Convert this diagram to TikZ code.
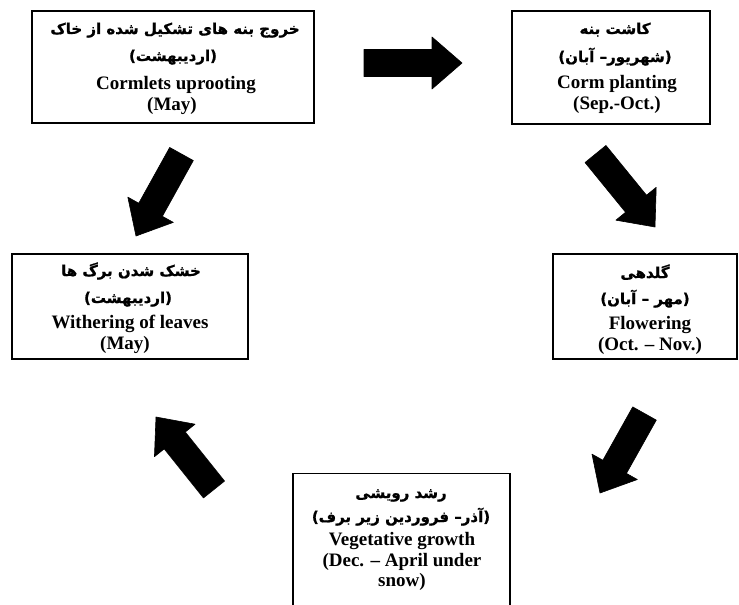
\documentclass[tikz,border=0pt]{standalone}
\usepackage{fontspec}
\setmainfont{Liberation Serif}
\newfontfamily\fa[Script=Arabic,BoldFeatures={FakeBold=1}]{DejaVu Sans}
\TeXXeTstate=1
\usetikzlibrary{calc}
\tikzset{
  box/.style={draw=black, line width=1.2pt, fill=white, inner sep=0pt},
  en/.style={anchor=base, inner sep=0pt, font=\bfseries\fontsize{19}{21}\selectfont},
  fatxt/.style={anchor=base, inner sep=0pt, font=\fa\bfseries\fontsize{15}{17}\selectfont},
  arrowfill/.style={fill=black, draw=black, line width=0.6pt, line join=round},
}
\newcommand\blockarrow[2]{%
  \coordinate (#1-h) at ($(#2)!30pt!(#1)$);
  \filldraw[arrowfill] ($(#1)!13.5pt!90:(#2)$) -- ($(#1-h)!13.5pt!90:(#2)$) -- ($(#1-h)!26pt!90:(#2)$)
    -- (#2) -- ($(#1-h)!26pt!-90:(#2)$) -- ($(#1-h)!13.5pt!-90:(#2)$) -- ($(#1)!13.5pt!-90:(#2)$) -- cycle;}
\begin{document}
\begin{tikzpicture}[x=1pt, y=-1pt]
\useasboundingbox[fill=white] (0,0) rectangle (739,605);
% boxes
\node[box, minimum width=282pt, minimum height=112pt] (b1) at (173,67) {};
\node[box, minimum width=198pt, minimum height=113pt] (b2) at (611,67.5) {};
\node[box, minimum width=236pt, minimum height=105pt] (b3) at (130,306.5) {};
\node[box, minimum width=184pt, minimum height=105pt] (b4) at (645,306.5) {};
\node[box, minimum width=217pt, minimum height=170pt, anchor=north] (b5) at (401.5,473) {};
% box 1
\node[fatxt] (t1a) at (175,34) {\beginR خروج بنه های تشکیل شده از خاک\endR};
\node[fatxt] (t1b) at (173,61) {\beginR(اردیبهشت)\endR};
\node[en] (t1c) at (176,89) {Cormlets uprooting};
\node[en] (t1d) at (172,110) {(May)};
% box 2
\node[fatxt] (t2a) at (615,34) {\beginR کاشت بنه\endR};
\node[fatxt] (t2b) at (615,62) {\beginR(شهریور– آبان)\endR};
\node[en] (t2c) at (617,88) {Corm planting};
\node[en] (t2d) at (617,109) {(Sep.-Oct.)};
% box 3
\node[fatxt] (t3a) at (131,276) {\beginR خشک شدن برگ ها\endR};
\node[fatxt] (t3b) at (128,303) {\beginR(اردیبهشت)\endR};
\node[en] (t3c) at (130,328) {Withering of leaves};
\node[en] (t3d) at (125,349) {(May)};
% box 4
\node[fatxt] (t4a) at (645,278) {\beginR گلدهی\endR};
\node[fatxt] (t4b) at (645,304) {\beginR(مهر – آبان)\endR};
\node[en] (t4c) at (650,329) {Flowering};
\node[en] (t4d) at (650,350) {(Oct. – Nov.)};
% box 5
\node[fatxt] (t5a) at (401,498) {\beginR رشد رویشی\endR};
\node[fatxt] (t5b) at (401,522) {\beginR(آذر– فروردین زیر برف)\endR};
\node[en] (t5c) at (402,545) {Vegetative growth};
\node[en] (t5d) at (402,566) {(Dec. – April under};
\node[en] (t5e) at (402,586) {snow)};
% arrows
\coordinate (a1s) at (364,63);   \coordinate (a1e) at (462,63);
\coordinate (a2s) at (595.5,154); \coordinate (a2e) at (655,227);
\coordinate (a3s) at (644.5,413.5); \coordinate (a3e) at (600,493);
\coordinate (a4s) at (214,489.5); \coordinate (a4e) at (156,417);
\coordinate (a5s) at (181.5,154); \coordinate (a5e) at (136,236);
\blockarrow{a1s}{a1e}
\blockarrow{a2s}{a2e}
\blockarrow{a3s}{a3e}
\blockarrow{a4s}{a4e}
\blockarrow{a5s}{a5e}
\end{tikzpicture}
\end{document}
